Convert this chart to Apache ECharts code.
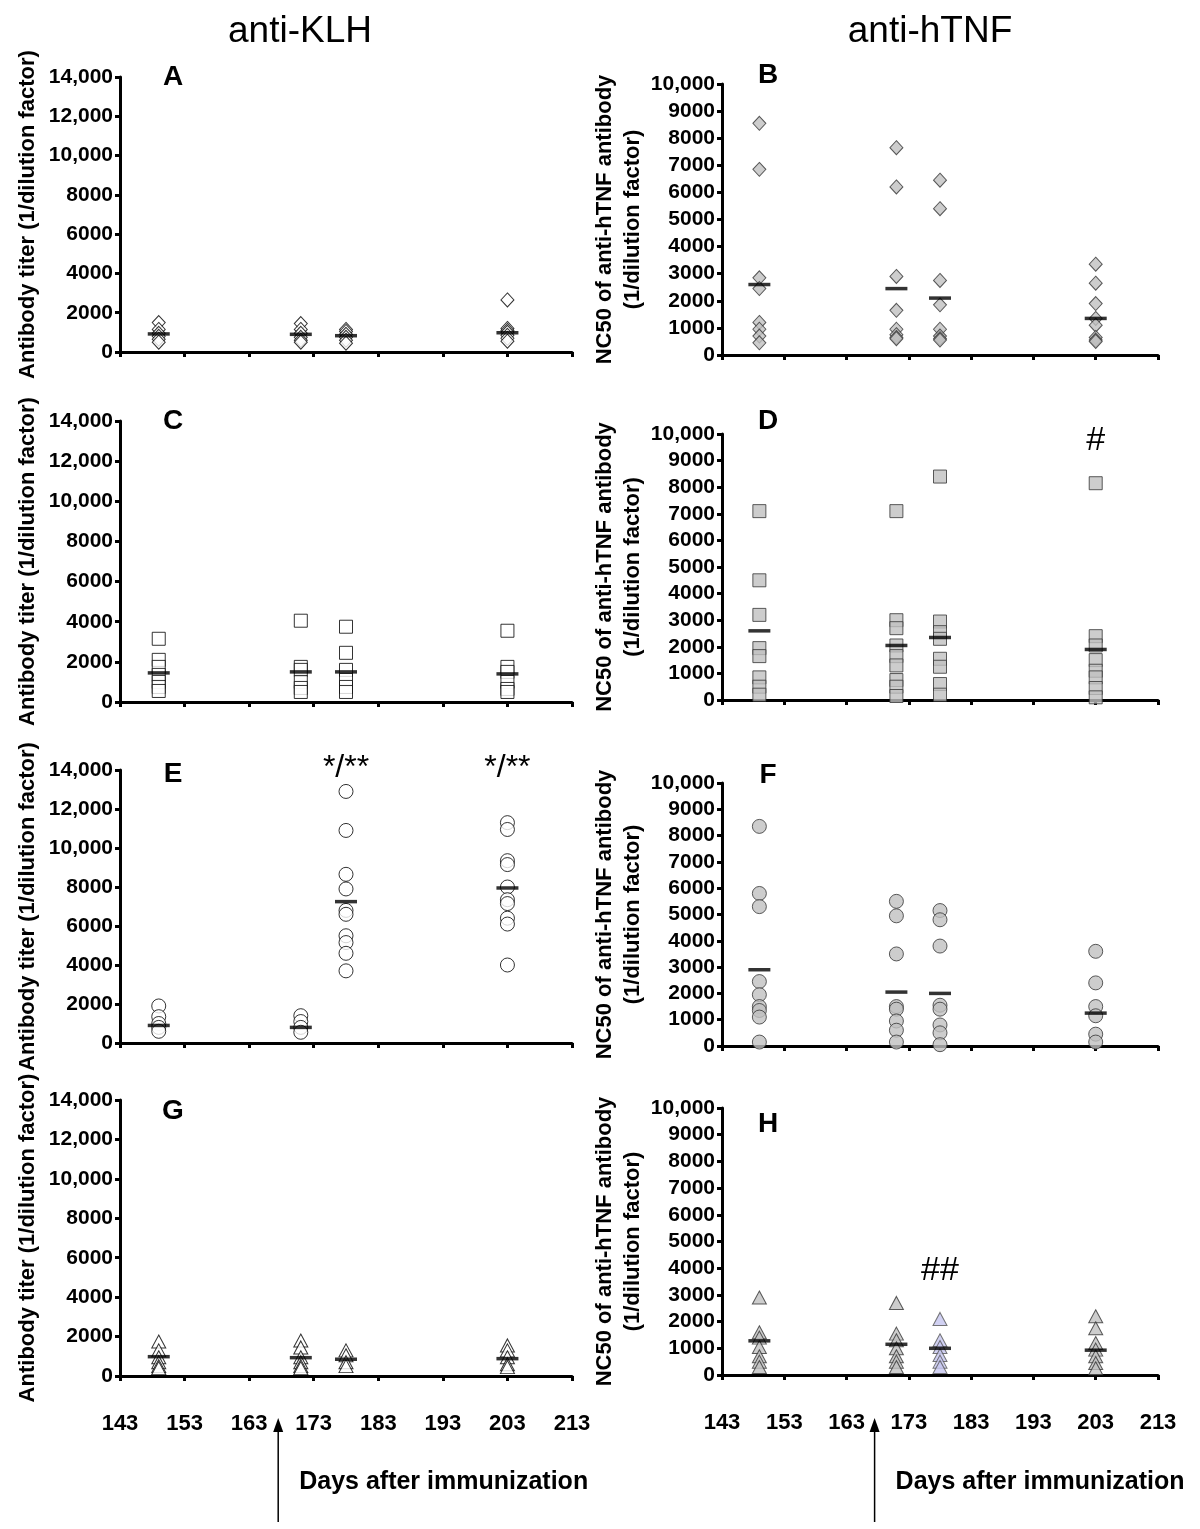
<!DOCTYPE html>
<html>
<head>
<meta charset="utf-8">
<script src="https://cdn.jsdelivr.net/npm/echarts@6/dist/echarts.min.js"></script>
<style>
html,body{margin:0;padding:0;background:#ffffff;}
#chart{width:1200px;height:1529px;}
</style>
</head>
<body>
<div id="chart"></div>
<script>
// ---------------- DATA ----------------
const days = [149, 171, 178, 203];
const xTicks = [143, 153, 163, 173, 183, 193, 203, 213];
const arrowDay = 167.5;

// anti-KLH (left column), one sub-array per day
const panelA = [[1500, 1150, 950, 800, 650, 500], [1450, 1150, 950, 750, 600, 500], [1150, 1050, 900, 750, 600, 450], [2650, 1200, 1100, 1000, 850, 700, 550]];
const meanA = [920, 900, 830, 980];
const panelC = [[3150, 2100, 1750, 1350, 1000, 750, 550], [4050, 1750, 1600, 1000, 700, 500], [3750, 2450, 1600, 1100, 750, 500], [3550, 1750, 1500, 1000, 650, 500]];
const meanC = [1450, 1500, 1500, 1400];
const panelE = [[1900, 1350, 1000, 800, 600], [1400, 1100, 800, 550], [12900, 10900, 8650, 7900, 6800, 6600, 5500, 5150, 4600, 3700], [11300, 10950, 9350, 9150, 8000, 7350, 7150, 6400, 6100, 4000]];
const meanE = [900, 800, 7250, 7950];
const panelG = [[1750, 1300, 950, 700, 500, 400], [1800, 1450, 950, 700, 500, 400], [1300, 1050, 700, 500], [1550, 1300, 950, 600, 450]];
const meanG = [980, 930, 850, 880];

// anti-hTNF (right column)
const panelB = [[8550, 6850, 2850, 2450, 1200, 950, 700, 450], [7650, 6200, 2900, 1650, 950, 750, 650, 600], [6450, 5400, 2750, 1850, 950, 700, 600, 550], [3350, 2650, 1900, 1350, 1100, 650, 550, 500]];
const meanB = [2600, 2450, 2100, 1350];
const panelD = [[7100, 4500, 3200, 1950, 1650, 850, 500, 200], [7100, 3000, 2700, 2050, 1650, 1300, 750, 500, 150], [8400, 2950, 2550, 2300, 1550, 1250, 600, 200], [8150, 2400, 2050, 1500, 1100, 850, 450, 100]];
const meanD = [2600, 2050, 2350, 1900];
const panelF = [[8350, 5800, 5300, 2450, 1950, 1500, 1350, 1100, 150], [5500, 4950, 3500, 1500, 1400, 950, 600, 150], [5150, 4800, 3800, 1550, 1400, 800, 500, 50], [3600, 2400, 1500, 1150, 450, 150]];
const meanF = [2900, 2050, 2000, 1250];
const panelH = [[2900, 1600, 1400, 1050, 700, 500, 300], [2700, 1550, 1300, 1000, 700, 500, 300], [2100, 1300, 1050, 750, 500, 300], [2200, 1750, 1200, 950, 700, 450, 250]];
const meanH = [1280, 1150, 1000, 930];
const highlightGroupH = 2; // day-178 group drawn in lavender

const klhName = 'Antibody titer (1/dilution factor)';
const tnfName = 'NC50 of anti-hTNF antibody\n(1/dilution factor)';

// ---------------- LAYOUT ----------------
const FONT = '"Liberation Sans", Arial, Helvetica, sans-serif';
const grids = [
  {left: 120, top: 77,   width: 452, height: 275},  // A
  {left: 722, top: 84,   width: 436, height: 271},  // B
  {left: 120, top: 421,  width: 452, height: 281},  // C
  {left: 722, top: 434,  width: 436, height: 266},  // D
  {left: 120, top: 770,  width: 452, height: 273},  // E
  {left: 722, top: 783,  width: 436, height: 263},  // F
  {left: 120, top: 1100, width: 452, height: 276},  // G
  {left: 722, top: 1108, width: 436, height: 267}   // H
];

function pts(groups, skip) {
  const out = [];
  groups.forEach((g, i) => { if (i !== skip) g.forEach(v => out.push([days[i], v])); });
  return out;
}
function meanPts(m) { return m.map((v, i) => [days[i], v]); }
function fmt(v) { return v >= 10000 ? String(v).replace(/\B(?=(\d{3})+(?!\d))/g, ',') : String(v); }

const axisLineStyle = {color: '#000', width: 3};
const xAxes = [], yAxes = [];
grids.forEach((g, i) => {
  const left = i % 2 === 0;
  xAxes.push({
    gridIndex: i, type: 'value', min: 143, max: 213,
    axisLine: {show: true, onZero: false, lineStyle: axisLineStyle},
    axisTick: {show: true, customValues: xTicks, length: 5, lineStyle: axisLineStyle},
    axisLabel: {show: i >= 6, customValues: xTicks, margin: 37, fontSize: 22, fontWeight: 'bold', color: '#000', fontFamily: FONT},
    splitLine: {show: false}
  });
  yAxes.push({
    gridIndex: i, type: 'value', min: 0, max: left ? 14000 : 10000, interval: left ? 2000 : 1000,
    axisLine: {show: true, lineStyle: axisLineStyle},
    axisTick: {show: true, length: 5, lineStyle: axisLineStyle},
    axisLabel: {margin: 7, fontSize: 21, fontWeight: 'bold', color: '#000', fontFamily: FONT, formatter: fmt},
    splitLine: {show: false},
    name: left ? klhName : tnfName,
    nameLocation: 'middle', nameRotate: 90, nameGap: left ? 78 : 75,
    nameTextStyle: {fontSize: 22, fontWeight: 'bold', color: '#000', fontFamily: FONT, lineHeight: 28}
  });
});

const openStyle = {color: '#ffffff', borderColor: '#000', borderWidth: 1};
const grayStyle = {color: '#c0c0c0', borderColor: '#333', borderWidth: 1};
const lavStyle = {color: '#c6c6ef', borderColor: '#555', borderWidth: 1};

function scatter(idx, data, symbol, size, style) {
  return {type: 'scatter', xAxisIndex: idx, yAxisIndex: idx, data: data, symbol: symbol, symbolSize: size,
          itemStyle: style, z: 2, silent: true, animation: false};
}
function meanSeries(idx, m) {
  return {type: 'scatter', xAxisIndex: idx, yAxisIndex: idx, data: meanPts(m), symbol: 'rect', symbolSize: [22, 3.5],
          itemStyle: {color: '#000'}, z: 5, silent: true, animation: false};
}

const series = [
  scatter(0, pts(panelA), 'diamond', [13, 14], openStyle), meanSeries(0, meanA),
  scatter(1, pts(panelB), 'diamond', [13, 14], grayStyle), meanSeries(1, meanB),
  scatter(2, pts(panelC), 'rect', 13, openStyle), meanSeries(2, meanC),
  scatter(3, pts(panelD), 'rect', 13, grayStyle), meanSeries(3, meanD),
  scatter(4, pts(panelE), 'circle', 14, openStyle), meanSeries(4, meanE),
  scatter(5, pts(panelF), 'circle', 14, grayStyle), meanSeries(5, meanF),
  scatter(6, pts(panelG), 'triangle', [14, 13], openStyle), meanSeries(6, meanG),
  scatter(7, pts(panelH, highlightGroupH), 'triangle', [14, 13], grayStyle),
  scatter(7, panelH[highlightGroupH].map(v => [days[highlightGroupH], v]), 'triangle', [14, 13], lavStyle),
  meanSeries(7, meanH)
];

const chart = echarts.init(document.getElementById('chart'), null, {renderer: 'canvas'});
chart.setOption({
  animation: false,
  backgroundColor: '#ffffff',
  grid: grids,
  xAxis: xAxes,
  yAxis: yAxes,
  series: series
});

// ---------------- ANNOTATIONS ----------------
function txt(x, y, s, size, weight, align) {
  return {type: 'text', x: x, y: y, style: {text: s, fontSize: size, fontWeight: weight || 'normal', fill: '#000',
          fontFamily: FONT, align: align || 'center', verticalAlign: 'middle'}, z: 10};
}
const letters = ['A', 'B', 'C', 'D', 'E', 'F', 'G', 'H'];
const letterY = [77, 75, 421, 421, 774, 775, 1111, 1124];
const graphics = [
  txt(300, 32, 'anti-KLH', 37), txt(930, 32, 'anti-hTNF', 37)
];
letters.forEach((L, i) => {
  graphics.push(txt(grids[i].left + (i % 2 === 0 ? 53 : 46), letterY[i], L, 28, 'bold'));
});
// significance marks
const pE178 = chart.convertToPixel({xAxisIndex: 4}, 178);
const pE203 = chart.convertToPixel({xAxisIndex: 4}, 203);
const pD203 = chart.convertToPixel({xAxisIndex: 3}, 203);
const pH178 = chart.convertToPixel({xAxisIndex: 7}, 178);
graphics.push(txt(pE178, 768, '*/**', 32));
graphics.push(txt(pE203, 768, '*/**', 32));
graphics.push(txt(pD203, 441, '#', 34));
graphics.push(txt(pH178, 1271, '##', 34));
// arrows + axis title
[6, 7].forEach(ax => {
  const x = chart.convertToPixel({xAxisIndex: ax}, arrowDay);
  graphics.push({type: 'line', shape: {x1: x, y1: 1428, x2: x, y2: 1522}, style: {stroke: '#000', lineWidth: 1.5}, z: 10});
  graphics.push({type: 'polygon', shape: {points: [[x, 1418], [x - 5, 1432], [x + 5, 1432]]}, style: {fill: '#000'}, z: 10});
  graphics.push(txt(x + 21, 1482, 'Days after immunization', 25, 'bold', 'left'));
});
chart.setOption({graphic: graphics});
</script>
</body>
</html>
